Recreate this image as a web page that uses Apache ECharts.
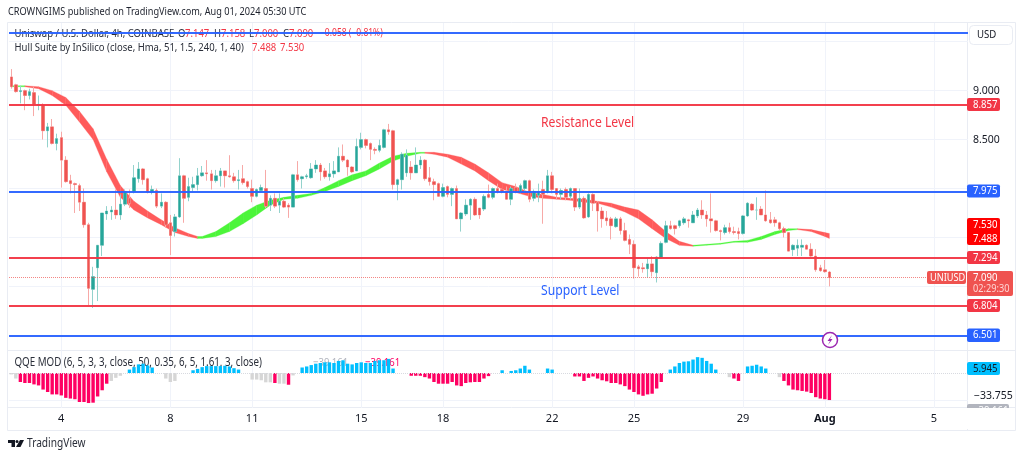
<!DOCTYPE html>
<html>
<head>
<meta charset="utf-8">
<title>UNIUSD 4h</title>
<style>
    html, body { margin: 0; padding: 0; background: #fff; }
    #chart { width: 1024px; height: 458px; }
</style>
</head>
<body>
<div id="chart"></div>
<script src="https://cdn.jsdelivr.net/npm/echarts@6/dist/echarts.min.js"></script>
<script>
// 4h candles
const opens = [9.14,9.06,8.99,9.00,8.95,8.98,8.85,8.85,8.59,8.63,8.46,8.52,8.29,8.08,8.05,8.03,7.86,7.63,6.97,7.19,7.42,7.74,7.76,7.78,7.73,7.84,7.90,7.97,8.10,8.20,
    8.10,7.96,7.98,7.82,7.86,7.65,7.56,7.71,8.13,7.91,8.01,8.04,8.13,8.16,8.15,8.08,8.13,8.18,8.13,8.12,8.08,8.10,8.07,8.00,7.92,7.98,8.00,7.83,7.90,7.83,
    7.87,7.83,7.81,8.14,8.10,8.12,8.11,8.20,8.24,8.18,8.12,8.15,8.17,8.33,8.29,8.22,8.18,8.42,8.50,8.46,8.40,8.39,8.42,8.60,8.59,8.04,8.09,8.16,8.22,8.16,
    8.24,8.29,8.11,8.07,8.05,7.92,8.02,7.94,8.00,7.69,7.74,7.83,7.89,7.80,7.79,7.94,7.91,8.00,7.99,7.97,7.89,8.01,7.97,8.00,8.08,7.90,7.93,7.99,7.96,8.13,
    8.00,7.94,7.99,7.92,8.00,7.81,7.90,7.71,7.94,7.86,7.77,7.70,7.69,7.61,7.69,7.57,7.48,7.43,7.20,7.19,7.18,7.23,7.14,7.29,7.45,7.62,7.62,7.62,7.65,7.68,
    7.65,7.72,7.78,7.73,7.69,7.67,7.57,7.55,7.60,7.56,7.56,7.54,7.72,7.84,7.78,7.79,7.73,7.68,7.68,7.65,7.59,7.55,7.375,7.39,7.40,7.42,7.38,7.31,7.19,7.17,7.147];
const highs = [9.22,9.07,9.05,9.01,9.02,9.04,8.95,8.87,8.67,8.71,8.56,8.58,8.33,8.14,8.06,8.05,8.00,7.65,7.20,7.42,7.75,7.82,7.82,7.99,7.94,7.99,7.99,8.24,8.27,8.21,
    8.11,8.03,8.00,7.95,7.87,7.73,7.74,8.31,8.14,8.11,8.12,8.21,8.23,8.29,8.19,8.19,8.21,8.18,8.34,8.16,8.19,8.24,8.08,8.09,8.00,8.04,8.19,7.93,7.95,7.95,
    7.90,7.85,8.15,8.28,8.13,8.15,8.26,8.29,8.26,8.21,8.26,8.28,8.42,8.45,8.30,8.23,8.51,8.57,8.51,8.47,8.42,8.50,8.61,8.66,8.60,8.10,8.37,8.40,8.28,8.42,
    8.33,8.30,8.22,8.10,8.06,8.05,8.03,8.01,8.03,7.76,7.89,7.90,7.91,7.80,7.94,8.04,8.01,8.05,8.00,8.02,8.02,8.05,8.05,8.09,8.09,7.99,8.05,8.08,8.19,8.17,
    8.00,8.00,8.01,8.01,8.00,8.00,7.92,7.95,7.95,7.87,7.81,7.77,7.71,7.71,7.71,7.65,7.53,7.47,7.22,7.24,7.29,7.31,7.31,7.46,7.67,7.67,7.63,7.68,7.71,7.69,
    7.77,7.80,7.88,7.77,7.95,7.68,7.58,7.63,7.65,7.61,7.60,7.73,7.86,7.85,7.91,7.82,7.98,7.76,7.71,7.66,7.61,7.55,7.43,7.48,7.48,7.43,7.44,7.38,7.22,7.27,7.158];
const lows = [9.02,8.98,8.87,8.80,8.91,8.74,8.80,8.50,8.42,8.45,8.39,8.01,8.06,7.95,7.75,7.77,7.60,6.81,6.78,6.85,7.31,7.68,7.68,7.69,7.68,7.82,7.80,7.95,8.06,8.04,
    7.95,7.94,7.80,7.80,7.60,7.32,7.51,7.70,7.65,7.87,7.97,7.98,8.12,8.08,7.99,8.06,8.02,8.01,8.11,8.06,7.99,8.04,8.00,7.86,7.91,7.96,7.80,7.77,7.80,7.75,
    7.80,7.70,7.81,8.07,8.00,8.10,8.10,8.16,8.08,8.10,8.08,8.11,8.17,8.27,8.13,8.16,8.18,8.40,8.41,8.29,8.35,8.37,8.41,8.55,7.99,7.88,7.99,8.12,8.09,8.16,
    8.20,8.08,8.03,7.88,7.92,7.91,7.91,7.82,7.69,7.56,7.72,7.68,7.72,7.69,7.77,7.90,7.89,7.95,7.95,7.89,7.83,7.95,7.95,7.96,7.86,7.87,7.86,7.64,7.95,7.95,
    7.89,7.89,7.88,7.89,7.77,7.79,7.69,7.70,7.77,7.56,7.60,7.62,7.48,7.60,7.53,7.46,7.33,7.08,7.10,7.14,7.09,7.10,7.04,7.28,7.44,7.58,7.53,7.60,7.63,7.60,
    7.65,7.70,7.69,7.61,7.55,7.56,7.47,7.53,7.54,7.53,7.48,7.53,7.71,7.77,7.68,7.73,7.66,7.64,7.61,7.57,7.50,7.36,7.31,7.31,7.31,7.38,7.30,7.15,7.15,7.14,7.00];
const closes = [9.04,8.99,9.00,8.95,8.99,8.86,8.86,8.59,8.63,8.46,8.51,8.29,8.07,8.05,8.04,7.86,7.63,6.98,7.10,7.42,7.75,7.77,7.78,7.73,7.84,7.97,7.85,8.11,8.20,8.09,
    7.96,7.99,7.82,7.86,7.63,7.52,7.71,8.13,7.90,8.02,8.04,8.13,8.16,8.15,8.08,8.13,8.18,8.13,8.12,8.08,8.09,8.06,8.02,7.92,7.99,8.01,7.82,7.90,7.82,7.87,
    7.81,7.81,8.14,8.09,8.12,8.13,8.20,8.24,8.17,8.12,8.15,8.18,8.33,8.29,8.22,8.17,8.43,8.50,8.44,8.40,8.39,8.44,8.60,8.58,8.04,8.09,8.35,8.34,8.16,8.24,
    8.29,8.10,8.07,8.04,7.92,8.01,7.94,8.00,7.69,7.75,7.83,7.89,7.73,7.73,7.92,7.91,8.00,7.97,7.97,7.89,8.00,7.97,8.03,8.08,7.89,7.97,7.97,7.94,8.13,7.99,
    7.94,7.98,7.91,8.00,7.81,7.90,7.70,7.94,7.85,7.77,7.69,7.67,7.62,7.69,7.57,7.47,7.43,7.19,7.18,7.18,7.23,7.15,7.30,7.44,7.62,7.59,7.59,7.67,7.69,7.67,
    7.73,7.78,7.73,7.69,7.67,7.57,7.56,7.60,7.56,7.55,7.54,7.72,7.85,7.78,7.78,7.73,7.67,7.65,7.65,7.59,7.55,7.36,7.42,7.42,7.42,7.38,7.31,7.17,7.16,7.15,7.09];

// Hull Suite band, read every few bars
const hullBars = [0,3,6,9,12,15,18,21,24,27,30,33,36,39,41,42,45,48,51,54,57,60,63,66,69,72,75,78,81,84,87,90,91,93,96,99,102,105,108,111,114,117,120,123,126,129,132,135,138,141,144,147,150,153,156,159,162,165,168,171,173,176,179,180];
const hullTop = [9.05,9.05,9.04,9.00,8.93,8.79,8.61,8.30,8.03,7.87,7.77,7.68,7.60,7.54,7.51,7.51,7.56,7.65,7.75,7.83,7.88,7.91,7.93,7.95,8.01,8.08,8.14,8.18,8.26,8.33,8.36,8.37,8.37,8.37,8.35,8.32,8.25,8.16,8.06,8.02,7.96,7.94,7.91,7.90,7.89,7.87,7.85,7.81,7.78,7.68,7.56,7.46,7.42,7.43,7.44,7.46,7.47,7.51,7.56,7.59,7.59,7.58,7.55,7.54];
const hullBottom = [9.04,9.04,9.02,8.95,8.85,8.68,8.50,8.17,7.91,7.78,7.70,7.63,7.55,7.51,7.49,7.49,7.51,7.56,7.64,7.73,7.83,7.89,7.90,7.93,7.97,8.02,8.08,8.13,8.20,8.28,8.33,8.36,8.36,8.35,8.32,8.25,8.18,8.08,7.99,7.96,7.92,7.90,7.89,7.88,7.86,7.85,7.81,7.76,7.69,7.59,7.49,7.42,7.41,7.42,7.43,7.45,7.45,7.48,7.53,7.57,7.58,7.56,7.51,7.49];
// bars where the band turns colour; it starts green
const hullTurns = [3,41,91,150,173];

// QQE MOD histogram
const qqeValues = [-2,-8,-13,-14.5,-14.5,-16.5,-18,-24,-27.5,-31,-31,-32.5,-36,-37,-38,-42,-42,-43.5,-43,-34,-25,-15.5,-11.5,-7,-4,null,5,8.5,12.5,13.5,
    11,8,null,null,-8,-13,-11.5,null,null,null,4,6,8.5,10,10,10,10,10.5,9.5,7,5,null,null,-9.5,-9.5,-10.5,-13.5,-13.5,-14.5,-15.5,
    -15.5,-17,-3.5,null,8,9.5,11.5,13.5,14.5,15.5,15.5,14.5,17.5,18.5,13.5,12.5,14.5,15.5,14.5,14.5,17.5,18.5,18.5,20.5,6.5,null,null,null,-4,-4,
    -4,-6,-8,-13,-15.5,-15.5,-15.5,-13,-18,-19,-14.5,-13.5,-13,-13,-8,-4.5,null,null,4,null,3,4,6.5,10.5,5,null,null,null,6.5,5,
    null,null,null,null,-5,-5,-11.5,-7,-5,-8,-10.5,-12,-14.5,-14.5,-16.5,-19,-24,-27.5,-31,-33,-31,-30,-22.5,-13,null,5,9.5,14.5,16.5,17,
    19.5,23,22,17.5,13.5,5,null,null,-6,-8,-11.5,null,9.5,10.5,12,9.5,6.5,null,null,-6,-11.5,-18,-24,-25,-26,-27,-29,-35,-37,-38,-39.161];
const qqeGrey = [0,1,22,23,24,34,35,36,53,54,55,56,57,59,60,62,158,169];

// price levels drawn on the chart
const levelValues = [9.594,8.857,7.975,7.294,6.804,6.501];
const levelColors = ['#2962ff','#f23645','#2962ff','#f23645','#f23645','#2962ff'];
const lastPrice = 7.09;

// axis
const barCount = 211;
const tickBars = [11,35,53,77,95,119,137,161,179,203];
const tickLabels = ['4','8','11','15','18','22','25','29','Aug','5'];
const priceTicks = [6.5,7,7.5,8,8.5,9,9.5];
const priceLabels = [9,8.5];

const textFont = '"Noto Sans", sans-serif';
const textSqueeze = 0.835;
const gridColor = '#f0f3fa';
const upColor = '#26a69a';
const downColor = '#ef5350';

let categories = [];
for (let i = 0; i < barCount; i++) {
    let pos = tickBars.indexOf(i);
    categories.push(pos >= 0 ? tickLabels[pos] : '');
}
const isTick = function(index){
    return tickBars.indexOf(index) >= 0;
};

let candleData = opens.map(function(o, i){
    return [o, closes[i], lows[i], highs[i]];
});
// second candle series only paints the bodies, so the wicks can stay pale
let bodyData = opens.map(function(o, i){
    return [o, closes[i], Math.min(o, closes[i]), Math.max(o, closes[i])];
});
let hullData = hullBars.map(function(bar, i){
    let turns = hullTurns.filter(function(t){ return t <= bar; }).length;
    return [bar, hullTop[i], hullBottom[i], turns % 2 === 0 ? 1 : 0];
});
let qqeData = qqeValues.map(function(v, i){
    if (v === null) {
        return null;
    }
    let color = v > 0 ? '#00bfff' : (qqeGrey.indexOf(i) >= 0 ? '#d6d6d6' : '#ff0062');
    return { value: v, itemStyle: { color: color } };
});

// the reference text is squeezed sideways, so the same is done here
function label(x, y, text, color, size){
    return {
        type: 'text', x: x, y: y, z: 1, scaleX: textSqueeze,
        style: {
            text: text, fill: color, font: size + 'px ' + textFont,
            textVerticalAlign: 'middle'
        }
    };
}
function box(x, y, w, h, fill, r, z){
    return {
        type: 'rect', z: z || 20,
        shape: { x: x, y: y, width: w, height: h, r: r === undefined ? 2 : r },
        style: { fill: fill }
    };
}
function tagText(x, y, text, color, size){
    let t = label(x, y, text, color, size || 11.5);
    t.z = 21;
    return t;
}
function frameLine(x1, y1, x2, y2){
    return {
        type: 'line', z: 0,
        shape: { x1: x1, y1: y1, x2: x2, y2: y2 },
        style: { stroke: '#e9ecf3', lineWidth: 1 }
    };
}

let graphics = [
    // frame
    frameLine(7.5, 22.5, 1015.5, 22.5), frameLine(7.5, 430.5, 1015.5, 430.5),
    frameLine(7.5, 22.5, 7.5, 430.5), frameLine(1015.5, 22.5, 1015.5, 430.5),
    frameLine(967.5, 22.5, 967.5, 430.5), frameLine(7.5, 350.5, 1015.5, 350.5),
    frameLine(7.5, 407.5, 1015.5, 407.5),
    // header and legends
    label(8, 11.5, 'CROWNGIMS published on TradingView.com, Aug 01, 2024 05:30 UTC', '#1e222d', 11),
    label(14.5, 33.5, 'Uniswap / U.S. Dollar, 4h, COINBASE', '#2a2e39', 11.4),
    label(178, 33.5, 'O', '#2a2e39', 11.4), label(185, 33.5, '7.147', '#f23645', 11.4),
    label(214, 33.5, 'H', '#2a2e39', 11.4), label(221, 33.5, '7.158', '#f23645', 11.4),
    label(249, 33.5, 'L', '#2a2e39', 11.4), label(254, 33.5, '7.000', '#f23645', 11.4),
    label(283, 33.5, 'C', '#2a2e39', 11.4), label(289, 33.5, '7.090', '#f23645', 11.4),
    label(320, 33.5, '−0.058 (−0.81%)', '#f23645', 10.2),
    label(14.5, 47.5, 'Hull Suite by InSilico (close, Hma, 51, 1.5, 240, 1, 40)', '#2a2e39', 11.4),
    label(252, 47.5, '7.488', '#f23645', 11.4), label(280, 47.5, '7.530', '#f23645', 11.4),
    label(14.5, 363, 'QQE MOD (6, 5, 3, 3, close, 50, 0.35, 6, 5, 1.61, 3, close)', '#2a2e39', 11.7),
    label(313, 363, '−39.161', '#b2b5be', 11.4), label(365, 363, '−39.161', '#ff0062', 11.4),
    // annotations
    label(541, 123, 'Resistance Level', '#f23645', 14.6),
    label(541, 291, 'Support Level', '#2962ff', 14.6),
    // price scale
    box(969, 25, 44, 20, '#ffffff', 4),
    {
        type: 'rect', z: 21,
        shape: { x: 969.5, y: 25.5, width: 43, height: 19, r: 4 },
        style: { fill: 'none', stroke: '#e9ecf3', lineWidth: 1 }
    },
    tagText(977, 35, 'USD', '#131722', 11.5),
    box(967, 98, 33, 13, '#f23645'),
    tagText(973, 104.5, '8.857', '#ffffff'),
    box(967, 184.5, 33, 13, '#2962ff'),
    tagText(973, 191, '7.975', '#ffffff'),
    box(967, 218, 33, 27, '#ff0000'),
    tagText(973, 225, '7.530', '#ffffff'),
    tagText(973, 238.5, '7.488', '#ffffff'),
    box(967, 251, 33, 13, '#f23645'),
    tagText(973, 257.5, '7.294', '#ffffff'),
    box(927, 271, 39, 13, '#ef5350'),
    tagText(930, 278, 'UNIUSD', '#ffffff', 11),
    box(967, 271, 46, 25, '#ef5350'),
    tagText(973, 278, '7.090', '#ffffff'),
    tagText(973, 289, '02:29:30', '#ffd5d3', 11),
    box(967, 299, 33, 13, '#f23645'),
    tagText(973, 305.5, '6.804', '#ffffff'),
    box(967, 328.5, 33, 13.5, '#2962ff'),
    tagText(973, 335, '6.501', '#ffffff'),
    box(967, 362, 33, 13, '#00bfff'),
    tagText(973, 369, '5.945', '#131722'),
    box(967, 404, 42, 14, '#b2b5be'),
    tagText(973, 411, '−39.161', '#ffffff'),
    box(966, 408, 49, 21, '#ffffff', 0, 22),
    // marker
    {
        type: 'circle', z: 20,
        shape: { cx: 830, cy: 340, r: 7.5 },
        style: { fill: '#ffffff', stroke: '#9c27b0', lineWidth: 1.5 }
    },
    {
        type: 'polygon', z: 21,
        shape: { points: [[832,335],[827.5,341],[830,341],[828,345],[832.5,339],[830,339]] },
        style: { fill: '#9c27b0' }
    },
    // TradingView mark
    {
        type: 'polygon', z: 1,
        shape: { points: [[8,440],[15,440],[15,447],[11.5,447],[11.5,443],[8,443]] },
        style: { fill: '#131722' }
    },
    {
        type: 'circle', z: 1,
        shape: { cx: 17, cy: 441.5, r: 1.5 },
        style: { fill: '#131722' }
    },
    {
        type: 'polygon', z: 1,
        shape: { points: [[20,440],[24,440],[20.5,447],[16,447]] },
        style: { fill: '#131722' }
    },
    label(27, 443.5, 'TradingView', '#2a2e39', 12.2)
];

let chart = echarts.init(document.querySelector('#chart'));
let option = {
    animation: false,
    backgroundColor: '#ffffff',
    graphic: graphics,
    grid: [
        { left: 9, width: 959, top: 23, height: 327.5, show: false },
        { left: 9, width: 959, top: 351, height: 57, show: false }
    ],
    xAxis: [
        {
            type: 'category', gridIndex: 0, data: categories,
            axisLine: { show: false }, axisTick: { show: false }, axisLabel: { show: false },
            splitLine: { show: true, interval: function(i){ return isTick(i); }, alignWithLabel: true, lineStyle: { color: gridColor } }
        },
        {
            type: 'category', gridIndex: 1, data: categories,
            axisLine: { show: false }, axisTick: { show: false },
            axisLabel: {
                show: true, interval: function(i){ return isTick(i); }, margin: 5,
                color: '#131722', fontSize: 11, fontFamily: textFont,
                hideOverlap: false,
                formatter: function(value){
                    return value === 'Aug' ? '{b|Aug}' : value;
                },
                rich: { b: { fontWeight: 'bold', color: '#131722', fontSize: 11, fontFamily: textFont } }
            },
            splitLine: { show: true, interval: function(i){ return isTick(i); }, alignWithLabel: true, lineStyle: { color: gridColor } }
        }
    ],
    yAxis: [
        {
            type: 'value', gridIndex: 0, position: 'right', min: 6.345, max: 9.691,
            axisLine: { show: false },
            axisTick: { show: false, customValues: priceTicks },
            axisLabel: {
                show: true, customValues: priceLabels, margin: 5,
                color: '#131722', fontSize: 10.5, fontFamily: textFont,
                formatter: function(value){ return value.toFixed(3); }
            },
            splitLine: { show: true, lineStyle: { color: gridColor } }
        },
        {
            type: 'value', gridIndex: 1, position: 'right', min: -50.7, max: 31.9,
            axisLine: { show: false },
            axisTick: { show: false, customValues: [-40] },
            axisLabel: {
                show: true, customValues: [-33.755], margin: 6,
                color: '#131722', fontSize: 10.5, fontFamily: textFont,
                formatter: function(value){ return '−' + Math.abs(value).toFixed(3); }
            },
            splitLine: { show: true, lineStyle: { color: gridColor } }
        }
    ],
    series: [
        {
            name: 'Hull', type: 'custom', xAxisIndex: 0, yAxisIndex: 0, z: 2,
            data: hullData,
            encode: { x: 0, y: [1, 2] },
            renderItem: function(params, api){
                let next = hullData[params.dataIndex + 1];
                if (!next) {
                    return null;
                }
                let bar = api.value(0), top = api.value(1), bottom = api.value(2);
                return {
                    type: 'polygon',
                    shape: {
                        points: [
                            api.coord([bar, top]), api.coord([next[0], next[1]]),
                            api.coord([next[0], next[2]]), api.coord([bar, bottom])
                        ]
                    },
                    style: { fill: api.value(3) ? '#4cf53a' : '#ff5b5b', stroke: api.value(3) ? '#4cf53a' : '#ff5b5b', lineWidth: 0.3 }
                };
            }
        },
        {
            name: 'Wicks', type: 'candlestick', xAxisIndex: 0, yAxisIndex: 0, z: 3,
            data: candleData, barWidth: 3,
            itemStyle: { color: '#93d2cc', color0: '#f7a9a7', borderColor: '#93d2cc', borderColor0: '#f7a9a7', borderWidth: 1 }
        },
        {
            name: 'UNIUSD', type: 'candlestick', xAxisIndex: 0, yAxisIndex: 0, z: 4,
            data: bodyData, barWidth: 3,
            itemStyle: { color: upColor, color0: downColor, borderColor: upColor, borderColor0: downColor, borderWidth: 0 },
            markLine: {
                silent: true, symbol: 'none', animation: false, z: 6,
                label: { show: false },
                data: levelValues.map(function(v, i){
                    return {
                        yAxis: v,
                        lineStyle: { color: levelColors[i], width: 2, type: 'solid', opacity: 0.95 }
                    };
                }).concat([{
                    yAxis: lastPrice,
                    lineStyle: { color: '#ef5350', width: 1, type: 'dotted', opacity: 0.7 }
                }])
            }
        },
        {
            name: 'QQE MOD', type: 'bar', xAxisIndex: 1, yAxisIndex: 1,
            data: qqeData, barWidth: 3.4,
            markLine: {
                silent: true, symbol: 'none', animation: false,
                data: [{ yAxis: 0 }],
                label: { show: false },
                lineStyle: { color: '#d8dae0', width: 1, type: 'dotted' }
            }
        }
    ]
};
chart.setOption(option);
</script>
</body>
</html>
